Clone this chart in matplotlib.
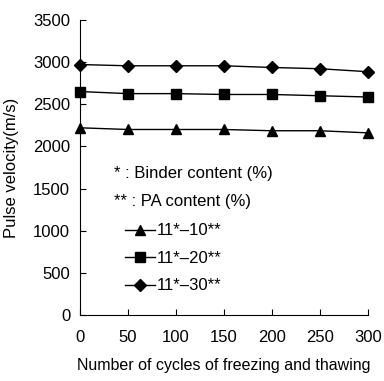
import matplotlib.pyplot as plt

# Freeze-thaw cycles and pulse velocity (m/s)
cycles = [0, 50, 100, 150, 200, 250, 300]
v_10 = [2220, 2200, 2200, 2200, 2185, 2185, 2160]
v_20 = [2650, 2625, 2625, 2615, 2615, 2600, 2585]
v_30 = [2970, 2955, 2955, 2955, 2935, 2920, 2885]
labels = ['11*\u201310**', '11*\u201320**', '11*\u201330**']

plt.rcParams['font.family'] = ['Liberation Sans', 'DejaVu Sans']

fig = plt.figure(figsize=(3.84, 3.81), dpi=100)
ax = fig.add_axes([0.208, 0.173, 0.75, 0.775])

for vals, mk, lab in zip([v_10, v_20, v_30], ['^', 's', 'D'], labels):
    ax.plot(cycles, vals, color='black', lw=1.0, marker=mk, markersize=6.5,
            label=lab, clip_on=False)

ax.set_xlim(0, 300)
ax.set_ylim(0, 3500)
ax.set_xticks(range(0, 301, 50))
ax.set_yticks(range(0, 3501, 500))
ax.spines['top'].set_visible(False)
ax.spines['right'].set_visible(False)
ax.tick_params(direction='in', length=4, labelsize=12)
ax.tick_params(axis='x', pad=11)
ax.tick_params(axis='y', pad=7)
ax.set_xlabel('Number of cycles of freezing and thawing', fontsize=11.5, labelpad=9)
ax.set_ylabel('Pulse velocity(m/s)', fontsize=12, labelpad=10)

ax.text(0.12, 0.48, '* : Binder content (%)', transform=ax.transAxes,
        fontsize=12, va='center')
ax.text(0.12, 0.385, '** : PA content (%)', transform=ax.transAxes,
        fontsize=12, va='center')
ax.legend(loc='upper left', bbox_to_anchor=(0.115, 0.35), frameon=False,
          fontsize=12, handlelength=1.8, handletextpad=0.15, labelspacing=0.75,
          borderpad=0.2)

fig.savefig('out.png', dpi=100)
